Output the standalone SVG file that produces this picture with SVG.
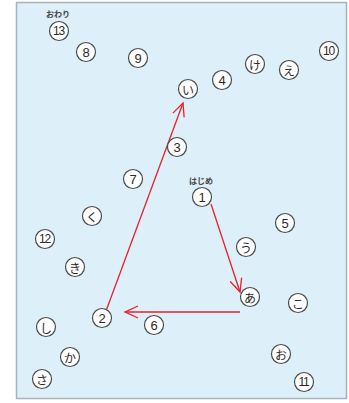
<svg xmlns="http://www.w3.org/2000/svg" width="349" height="403" viewBox="0 0 349 403">
<style>
.n circle{fill:#fff;stroke:#4a4a4a;stroke-width:1.2}
.n text{font-family:"Liberation Sans","Noto Sans CJK JP",sans-serif;font-size:13px;fill:#2a2a2a;text-anchor:middle;dominant-baseline:central}
.n text.k{font-family:"Noto Sans CJK JP",sans-serif;font-size:12px}
.n text.d{font-size:12px;letter-spacing:-1.2px}
.lbl{font-family:"Noto Sans CJK JP",sans-serif;font-size:8px;font-weight:bold;fill:#444;text-anchor:middle}
.e{stroke:#e8202a;stroke-width:1.3;fill:none}
</style>
<defs>
<marker id="ah" markerUnits="userSpaceOnUse" markerWidth="16" markerHeight="16" viewBox="-14 -8 16 16" refX="0" refY="0" orient="auto">
<path d="M-13,-6 L0,0 L-13,6" fill="none" stroke="#e8202a" stroke-width="1.3"/>
</marker>
</defs>
<rect x="16.5" y="2.5" width="330" height="396" fill="#ddeff8" stroke="#a8b2ba" stroke-width="1.5"/>
<g id="connectors">
<line class="e" x1="211" y1="204" x2="240" y2="292" marker-end="url(#ah)"/>
<line class="e" x1="240" y1="312" x2="125" y2="312" marker-end="url(#ah)"/>
<line class="e" x1="106" y1="311" x2="183" y2="103" marker-end="url(#ah)"/>
</g>
<text class="lbl" x="58" y="17">おわり</text>
<text class="lbl" x="201" y="184">はじめ</text>
<g id="n13" class="n"><circle cx="59" cy="31" r="9.5"/><text class="d" x="58.5" y="31">13</text></g>
<g id="n8" class="n"><circle cx="86" cy="52" r="9.5"/><text x="86" y="52">8</text></g>
<g id="n9" class="n"><circle cx="138" cy="58" r="9.5"/><text x="138" y="58">9</text></g>
<g id="n-i" class="n"><circle cx="188" cy="89" r="9.5"/><text class="k" x="188" y="89">い</text></g>
<g id="n4" class="n"><circle cx="222" cy="80" r="9.5"/><text x="222" y="80">4</text></g>
<g id="n-ke" class="n"><circle cx="255" cy="64" r="9.5"/><text class="k" x="255" y="64">け</text></g>
<g id="n-e" class="n"><circle cx="289" cy="70" r="9.5"/><text class="k" x="289" y="70">え</text></g>
<g id="n10" class="n"><circle cx="329" cy="51" r="9.5"/><text class="d" x="328.5" y="51">10</text></g>
<g id="n3" class="n"><circle cx="177" cy="147" r="9.5"/><text x="177" y="147">3</text></g>
<g id="n1" class="n"><circle cx="202" cy="197" r="9.5"/><text x="202" y="197">1</text></g>
<g id="n5" class="n"><circle cx="285" cy="223" r="9.5"/><text x="285" y="223">5</text></g>
<g id="n-u" class="n"><circle cx="246" cy="247" r="9.5"/><text class="k" x="246" y="247">う</text></g>
<g id="n7" class="n"><circle cx="133" cy="179" r="9.5"/><text x="133" y="179">7</text></g>
<g id="n-ku" class="n"><circle cx="92" cy="216" r="9.5"/><text class="k" x="92" y="216">く</text></g>
<g id="n12" class="n"><circle cx="45" cy="239" r="9.5"/><text class="d" x="44.5" y="239">12</text></g>
<g id="n-ki" class="n"><circle cx="75" cy="267" r="9.5"/><text class="k" x="75" y="267">き</text></g>
<g id="n2" class="n"><circle cx="102" cy="318" r="9.5"/><text x="102" y="318">2</text></g>
<g id="n6" class="n"><circle cx="154" cy="325" r="9.5"/><text x="154" y="325">6</text></g>
<g id="n-shi" class="n"><circle cx="46" cy="327" r="9.5"/><text class="k" x="46" y="327">し</text></g>
<g id="n-ka" class="n"><circle cx="70" cy="357" r="9.5"/><text class="k" x="70" y="357">か</text></g>
<g id="n-sa" class="n"><circle cx="42" cy="379" r="9.5"/><text class="k" x="42" y="379">さ</text></g>
<g id="n-a" class="n"><circle cx="250" cy="297" r="9.5"/><text class="k" x="250" y="297">あ</text></g>
<g id="n-ko" class="n"><circle cx="298" cy="303" r="9.5"/><text class="k" x="298" y="303">こ</text></g>
<g id="n-o" class="n"><circle cx="281" cy="354" r="9.5"/><text class="k" x="281" y="354">お</text></g>
<g id="n11" class="n"><circle cx="304" cy="382" r="9.5"/><text class="d" x="303.5" y="382">11</text></g>
</svg>
